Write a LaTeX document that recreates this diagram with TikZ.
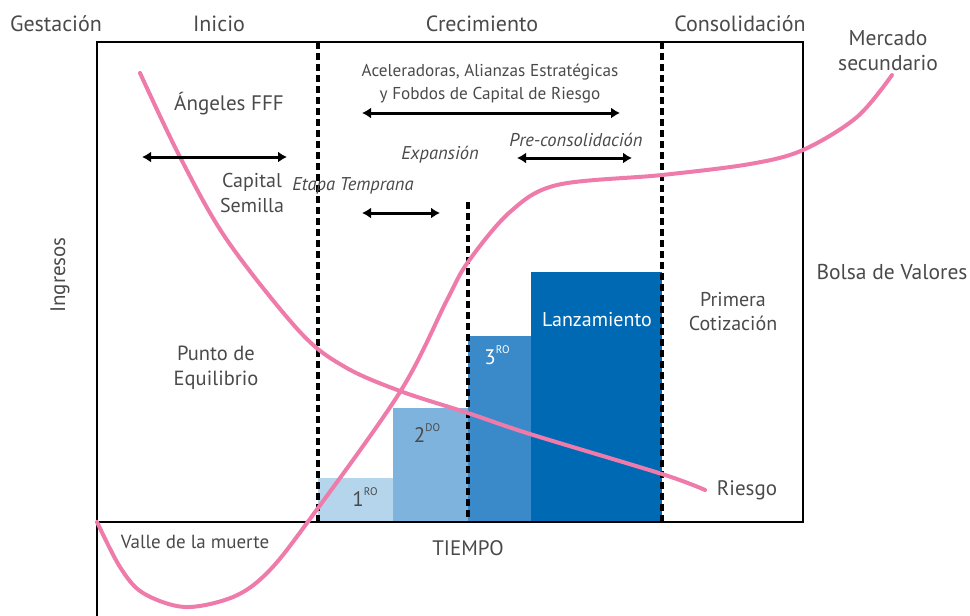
\documentclass[tikz,border=0pt]{standalone}
\usepackage{fontspec}
\setmainfont{PT Sans}
\usetikzlibrary{arrows.meta}
\definecolor{txt}{HTML}{4A4A4A}
\definecolor{curvepink}{HTML}{EE7BAA}
\definecolor{barA}{HTML}{B4D5EC}
\definecolor{barB}{HTML}{7DB3DC}
\definecolor{barC}{HTML}{3A8ACA}
\definecolor{barD}{HTML}{0069B4}
\newcommand{\supx}[1]{\raisebox{0.5em}{\fontsize{11}{11}\selectfont #1}}
\newcommand{\fs}[1]{\fontsize{#1}{25}\selectfont}
\begin{document}
\begin{tikzpicture}[x=1pt,y=-1pt,
  lbl/.style={text=txt, font=\fs{21}, align=center, inner sep=0pt},
  ital/.style={text=txt, font=\fontsize{18.5}{20}\selectfont\itshape, align=center, inner sep=0pt},
  dbl/.style={line width=3pt, {Latex[length=9pt,width=11pt]}-{Latex[length=9pt,width=11pt]}},
  divider/.style={line width=3.4pt, dash pattern=on 7pt off 4pt},
  trend/.style={draw=curvepink, line width=4pt, line cap=round}]
\useasboundingbox (0,0) rectangle (970,616);
% frame
\draw[line width=1.2pt] (97,522) -- (97,616);
% bars
\fill[barA] (318,478) rectangle (393,522);
\fill[barB] (393,408) rectangle (468,522);
\fill[barC] (468,336) rectangle (531,522);
\fill[barD] (531,272) rectangle (662,522);
\draw[line width=2.6pt] (97,42) rectangle (803,522);
% dividers
\draw[divider] (318,42) -- (318,522);
\draw[divider] (662,42) -- (662,522);
\draw[divider] (468,202) -- (468,522);
% curves
\draw[trend] plot[smooth, tension=0.55] coordinates {(140,73) (180,157) (227,240) (300,332) (345,367) (400,391) (468,413) (530,434) (662,474) (705,490)};
\draw[trend] plot[smooth, tension=0.55] coordinates {(97,522) (120,567) (143,593) (185,607) (233,597) (267,573) (307,523) (400,392) (447,300) (468,262) (510,212) (557,185) (662,175) (750,164) (803,150) (857,117) (892,75)};
% arrow end points
\coordinate (a1) at (142,157); \coordinate (a2) at (287,157);
\coordinate (b1) at (362,113); \coordinate (b2) at (620,113);
\coordinate (c1) at (362,213); \coordinate (c2) at (440,213);
\coordinate (d1) at (517,158); \coordinate (d2) at (632,158);
\draw[dbl] (a1) -- (a2);
\draw[dbl] (b1) -- (b2);
\draw[dbl] (c1) -- (c2);
\draw[dbl] (d1) -- (d2);
% labels
\node[lbl, font=\fs{22}] (gest) at (56,24) {Gestación};
\node[lbl, font=\fs{22}] (ini) at (219,24) {Inicio};
\node[lbl, font=\fs{22}] (crec) at (482,24) {Crecimiento};
\node[lbl, font=\fs{22}] (cons) at (740,24) {Consolidación};
\node[lbl, font=\fs{21.5}] (merc) at (888,51) {Mercado\\secundario};
\node[lbl] (ang) at (229,104) {Ángeles FFF};
\node[lbl, font=\fs{20}] (cap) at (252,193) {Capital\\Semilla};
\node[ital] (etapa) at (353,186) {Etapa Temprana};
\node[ital] (exp) at (440,155) {Expansión};
\node[ital] (pre) at (576,140) {Pre-consolidación};
\node[lbl, font=\fontsize{17.2}{23}\selectfont] (acel) at (490,84) {Aceleradoras, Alianzas Estratégicas\\y Fobdos de Capital de Riesgo};
\node[lbl, rotate=90] (ingr) at (60,275) {Ingresos};
\node[lbl, font=\fs{20.5}] (punto) at (216,368) {Punto de\\Equilibrio};
\node[lbl, font=\fontsize{20}{24}\selectfont] (prim) at (733,312) {Primera\\Cotización};
\node[lbl, font=\fs{21.5}] (bolsa) at (892,272) {Bolsa de Valores};
\node[lbl] (riesgo) at (747,490) {Riesgo};
\node[lbl, font=\fs{20}, text=white] (lanz) at (597,320) {Lanzamiento};
\node[lbl, text=white] (r3) at (497,355) {3\supx{RO}};
\node[lbl] (r2) at (427,433) {2\supx{DO}};
\node[lbl] (r1) at (365,497) {1\supx{RO}};
\node[lbl, font=\fs{19}] (valle) at (195,542) {Valle de la muerte};
\node[lbl] (tiempo) at (468,548) {TIEMPO};
\end{tikzpicture}
\end{document}
